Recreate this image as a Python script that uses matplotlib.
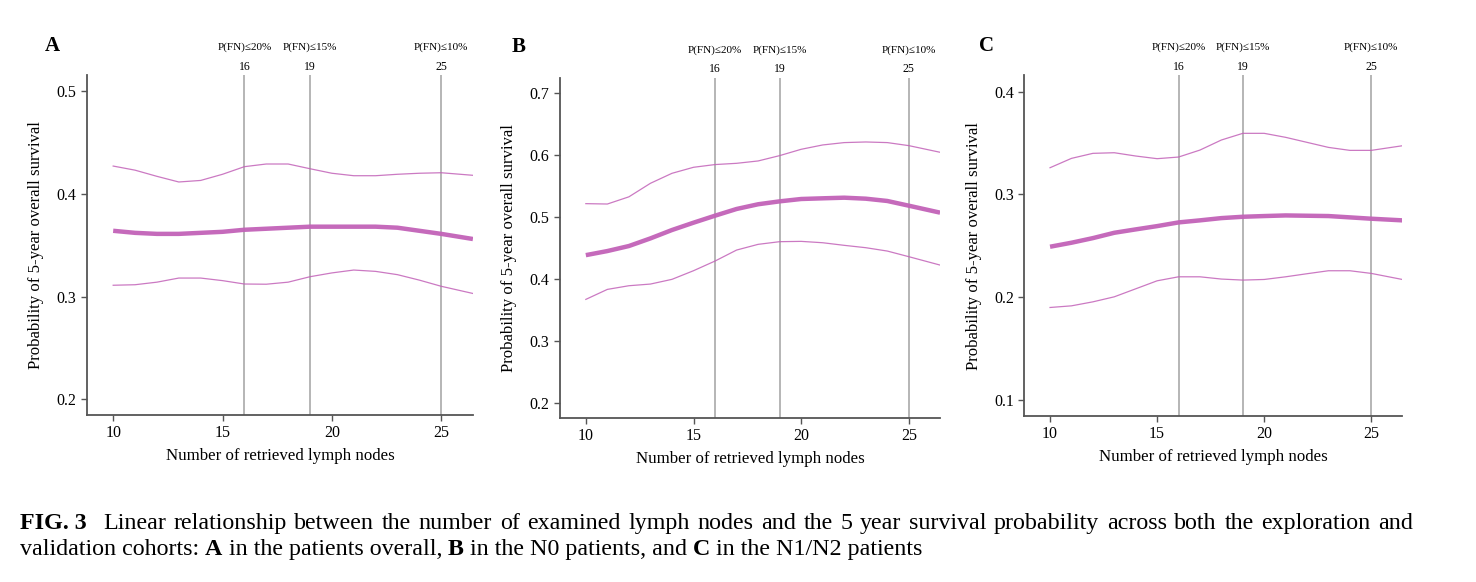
import numpy as np
import matplotlib
matplotlib.use('Agg')
import matplotlib.pyplot as plt

plt.rcParams['font.family'] = ['Liberation Serif', 'DejaVu Serif']

# number of retrieved lymph nodes (x)
nodes = [10, 11, 12, 13, 14, 15, 16, 17, 18, 19, 20, 21, 22, 23, 24, 25, 26.45]

# panel A: patients overall
a_mean = [0.364, 0.362, 0.361, 0.361, 0.362, 0.363, 0.365, 0.366, 0.367, 0.368, 0.368, 0.368, 0.368, 0.367, 0.364, 0.361, 0.356]
a_upper = [0.427, 0.423, 0.417, 0.4115, 0.413, 0.419, 0.4264, 0.429, 0.429, 0.4244, 0.420, 0.4176, 0.4176, 0.419, 0.420, 0.4205, 0.418]
a_lower = [0.311, 0.3115, 0.314, 0.318, 0.318, 0.3155, 0.3122, 0.312, 0.314, 0.3193, 0.323, 0.3258, 0.3245, 0.3213, 0.316, 0.310, 0.303]

# panel B: N0 patients
b_mean = [0.438, 0.4446, 0.4527, 0.465, 0.4785, 0.4903, 0.5016, 0.5124, 0.520, 0.5247, 0.5285, 0.5296, 0.5306, 0.529, 0.5253, 0.5177, 0.5065]
b_upper = [0.521, 0.5204, 0.532, 0.5538, 0.5699, 0.5796, 0.584, 0.586, 0.5898, 0.5984, 0.6086, 0.6156, 0.6194, 0.6204, 0.6194, 0.6145, 0.6038]
b_lower = [0.3667, 0.3828, 0.3887, 0.3914, 0.399, 0.4129, 0.4285, 0.4462, 0.4554, 0.4597, 0.4602, 0.458, 0.4538, 0.450, 0.4446, 0.4355, 0.422]

# panel C: N1/N2 patients
c_mean = [0.2489, 0.2528, 0.2573, 0.2625, 0.2658, 0.269, 0.2726, 0.2746, 0.2768, 0.2781, 0.2788, 0.2794, 0.2791, 0.2788, 0.2775, 0.2762, 0.2746]
c_upper = [0.3259, 0.335, 0.3399, 0.3405, 0.3373, 0.3347, 0.3363, 0.3431, 0.3529, 0.3594, 0.3594, 0.3555, 0.3506, 0.3457, 0.3428, 0.3428, 0.3473]
c_lower = [0.1897, 0.1913, 0.1952, 0.2001, 0.2079, 0.2157, 0.2196, 0.2196, 0.2174, 0.2164, 0.217, 0.2196, 0.2226, 0.2255, 0.2255, 0.2229, 0.217]

# cut-offs for false-negative probability
cutoffs = [16, 19, 25]
cutoff_labels = ['P(FN)≤20%', 'P(FN)≤15%', 'P(FN)≤10%']

panels = [
    ('A', a_mean, a_upper, a_lower, [0.2, 0.3, 0.4, 0.5], (0.1847, 0.5156), [0.0589, 0.2869, 0.2615, 0.5842], (52, 46)),
    ('B', b_mean, b_upper, b_lower, [0.2, 0.3, 0.4, 0.5, 0.6, 0.7], (0.176, 0.724), [0.3794, 0.2823, 0.2575, 0.5842], (519, 47)),
    ('C', c_mean, c_upper, c_lower, [0.1, 0.2, 0.3, 0.4], (0.084, 0.416), [0.694, 0.2853, 0.2561, 0.5854], (986, 46)),
]

line_color = '#c262b8'
spine_color = '#555555'
W, H = 1476, 582

fig = plt.figure(figsize=(W / 100, H / 100), dpi=100)

for letter, mean, upper, lower, yticks, ylim, rect, letter_pos in panels:
    ax = fig.add_axes(rect)

    # вертикальные линии порогов
    for c, lab in zip(cutoffs, cutoff_labels):
        ax.axvline(c, color='#b0b0b0', lw=1.3, zorder=1)
        ax.annotate(str(c), xy=(c, 1), xycoords=('data', 'axes fraction'),
                    xytext=(0, 6), textcoords='offset points',
                    ha='center', va='center', fontsize=8.5)
        ax.annotate(lab, xy=(c, 1), xycoords=('data', 'axes fraction'),
                    xytext=(0, 20), textcoords='offset points',
                    ha='center', va='center', fontsize=8)

    ax.plot(nodes, upper, color=line_color, lw=0.9, alpha=0.85, zorder=2)
    ax.plot(nodes, lower, color=line_color, lw=0.9, alpha=0.85, zorder=2)
    ax.plot(nodes, mean, color=line_color, lw=3.2, alpha=0.95, zorder=3,
            solid_capstyle='butt')

    ax.set_xlim(8.8, 26.45)
    ax.set_ylim(*ylim)
    ax.set_xticks([10, 15, 20, 25])
    ax.set_yticks(yticks)
    ax.set_yticklabels([f'{t:.1f}' for t in yticks])

    for side in ['top', 'right']:
        ax.spines[side].set_visible(False)
    for side in ['left', 'bottom']:
        ax.spines[side].set_color(spine_color)
        ax.spines[side].set_linewidth(1.3)
    ax.tick_params(colors=spine_color, labelcolor='black', labelsize=11.5,
                   length=4, width=1.0)

    ax.set_xlabel('Number of retrieved lymph nodes', fontsize=12.2, labelpad=5)
    ax.set_ylabel('Probability of 5-year overall survival', fontsize=12.1, labelpad=9)

    fig.text(letter_pos[0] / W, 1 - letter_pos[1] / H, letter, fontsize=15,
             fontweight='bold', ha='center', va='center')

# подпись рисунка, слова расставляются по ширине
renderer = fig.canvas.get_renderer()
cap_size = 17.3


def put(x, y, s, bold=False):
    t = fig.text(x / W, 1 - y / H, s, fontsize=cap_size, ha='left', va='baseline',
                 fontweight='bold' if bold else 'normal')
    return t.get_window_extent(renderer).width


space = cap_size * 100 / 72 * 0.25

# первая строка
base1 = 529
put(20, base1, 'FIG. 3', bold=True)
words1 = ('Linear relationship between the number of examined lymph nodes and the 5 year '
          'survival probability across both the exploration and').split()
probe = [fig.text(0, 0, w, fontsize=cap_size) for w in words1]
widths = [p.get_window_extent(renderer).width for p in probe]
for p in probe:
    p.remove()
gap = (1413 - 103 - sum(widths)) / (len(words1) - 1)
x = 103
for w, wd in zip(words1, widths):
    put(x, base1, w)
    x += wd + gap

# вторая строка
base2 = 555
pieces = [('validation cohorts:', False), ('A', True), ('in the patients overall,', False),
          ('B', True), ('in the N0 patients, and', False), ('C', True),
          ('in the N1/N2 patients', False)]
x = 20
for s, b in pieces:
    x += put(x, base2, s, bold=b) + space

plt.savefig('out.png', dpi=100)
